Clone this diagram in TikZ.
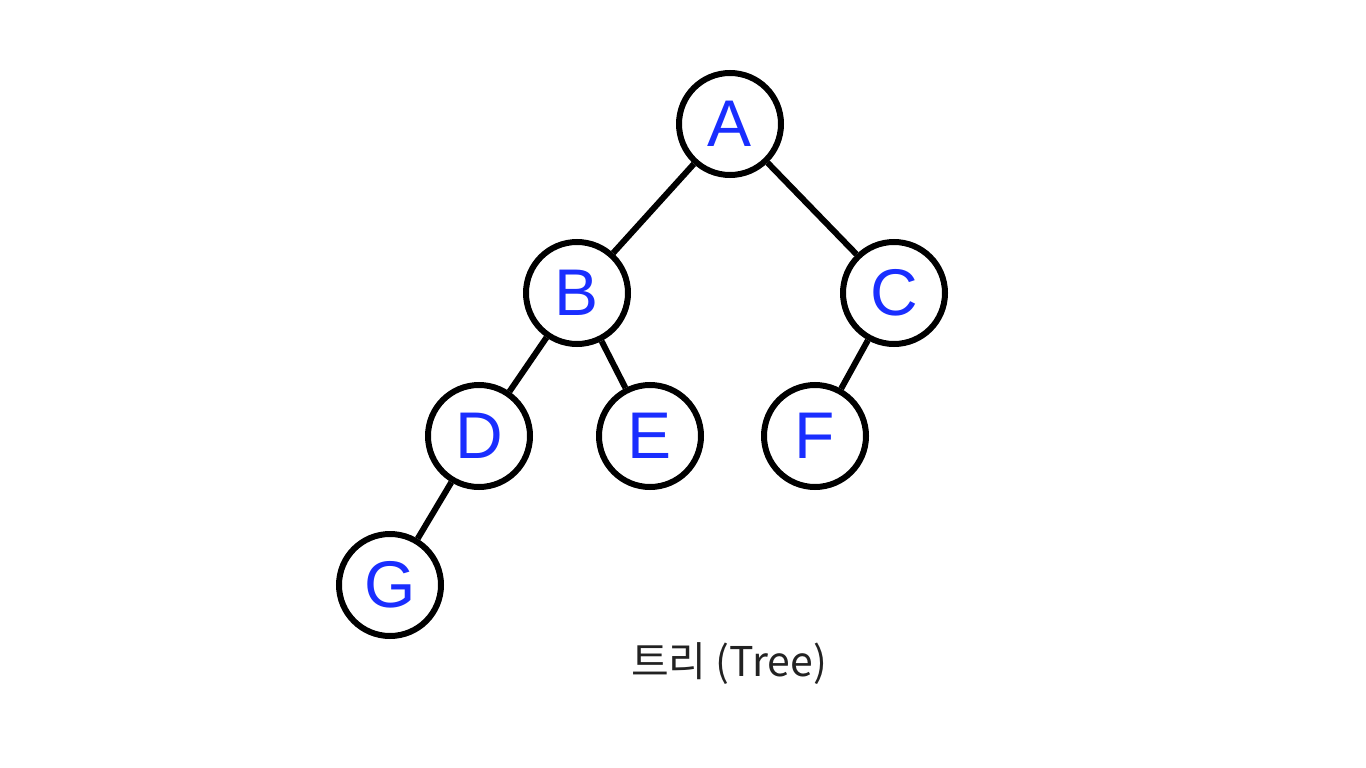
\documentclass[tikz,border=0pt]{standalone}
\usepackage{fontspec}
\setmainfont{Noto Sans CJK KR}
\newfontfamily\letterfont{Liberation Sans}
\definecolor{nodeblue}{HTML}{1A2EFF}
\definecolor{captiongray}{HTML}{222222}
\begin{document}
\begin{tikzpicture}[x=1pt,y=-1pt,
  treenode/.style={circle,draw=black,line width=6pt,fill=white,minimum size=102pt,inner sep=0pt,text=nodeblue,font=\letterfont\fontsize{66}{66}\selectfont},
  edge/.style={line width=6pt,draw=black}]
\useasboundingbox (0,0) rectangle (1366,768);
\node[treenode] (A) at (730,124) {A};
\node[treenode] (B) at (577,293) {B};
\node[treenode] (C) at (894,293) {C};
\node[treenode] (D) at (479,436) {D};
\node[treenode] (E) at (650,436) {E};
\node[treenode] (F) at (815,436) {F};
\node[treenode] (G) at (390,585) {G};
\draw[edge] (A) -- (B);
\draw[edge] (A) -- (C);
\draw[edge] (B) -- (D);
\draw[edge] (B) -- (E);
\draw[edge] (C) -- (F);
\draw[edge] (D) -- (G);
\node[text=captiongray,font=\fontsize{41}{41}\selectfont] (cap) at (729,664) {트리 (Tree)};
\end{tikzpicture}
\end{document}
